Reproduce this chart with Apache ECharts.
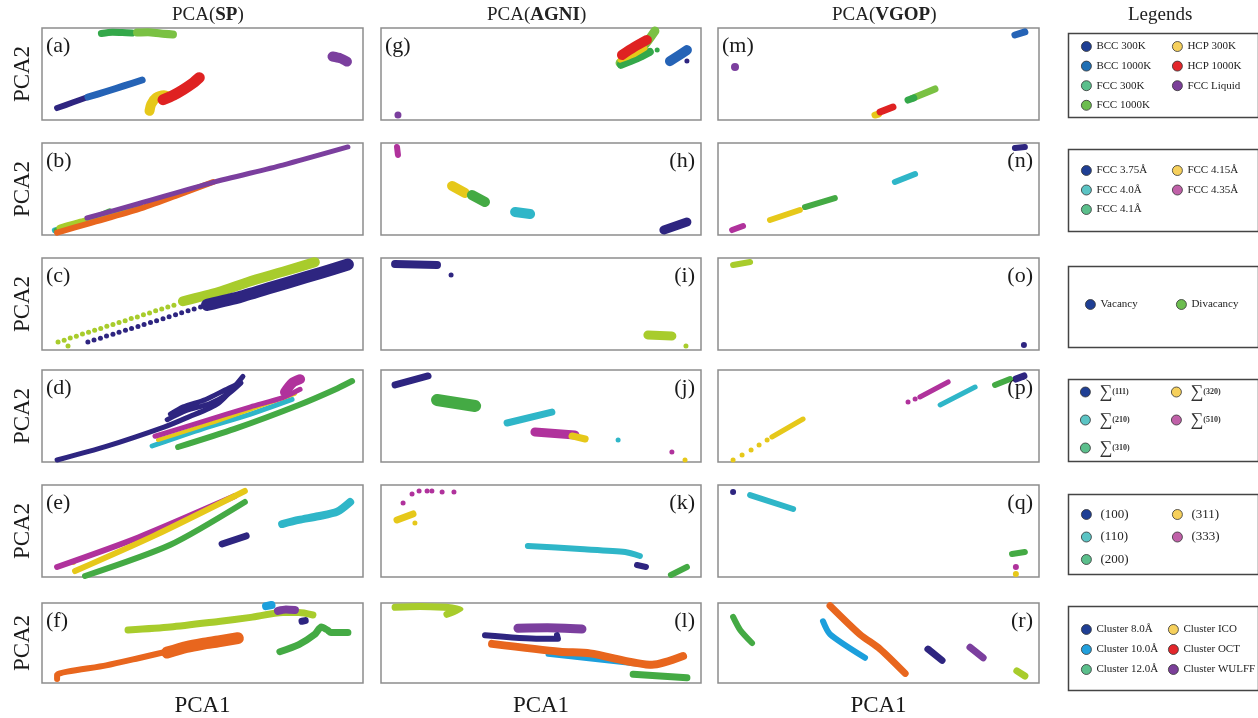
<!DOCTYPE html>
<html>
<head>
<meta charset="utf-8">
<script src="https://cdn.jsdelivr.net/npm/echarts@6/dist/echarts.min.js"></script>
<style>
html,body{margin:0;padding:0;background:#fff}
#chart{width:1258px;height:718px}
</style>
</head>
<body>
<div id="chart"></div>
<script>
// PCA projections, PCA1/PCA2 in normalised units (0–100 per panel)

// (a) SP – phases
const a_bcc300  = [[4.7,13],[9.5,19],[14.3,25]];
const a_bcc1000 = [[14.3,25],[20,31],[25.5,37],[31.2,43.5]];
const a_fcc300  = [[18.5,94],[22,95.5],[25,95],[28,94.5]];
const a_fcc1000 = [[29.6,95],[33,95.5],[37,94],[40.8,93]];
const a_hcp300  = [[33.5,10],[34,17],[35.5,24],[38,27],[39.5,25]];
const a_hcp1000 = [[37.7,22],[41,27],[44,33],[47,40],[49,46]];
const a_liquid  = [[90.5,69],[93,67],[95,63.5]];
// (b) SP – lattice constants
const b_375 = [[4,5],[9,9],[15,14]];
const b_40  = [[4.7,4.5],[12,12],[21,25]];
const b_41  = [[5.6,7.6],[12,14],[20,21],[30.5,32]];
const b_415 = [[4.7,2.5],[15,13],[30,28],[42,43],[53.3,57.6]];
const b_435 = [[14,18.5],[30,34],[53,57],[75,76],[95.3,95.7]];
// (c) SP – vacancies
const c_divDots = [[5,8.7],[6.9,10.6],[8.8,13],[10.7,15],[12.6,17.4],[14.5,19.2],[16.4,21.5],[18.3,23.5],[20.2,25.8],[22.1,27.6],[24,29.9],[25.9,31.9],[27.8,34.2],[29.7,36],[31.6,38.4],[33.5,40.3],[35.4,42.6],[37.3,44.5],[39.2,46.8],[41.1,48.7],[8.1,4.3]];
const c_divBand = [[43.9,53],[55,63],[64.2,74],[75,85],[85,95.5]];
const c_vacDots = [[14.3,8.7],[16.2,10.8],[18.2,12.9],[20.1,15.1],[22.1,17.1],[24,19.2],[26,21.4],[27.9,23.4],[29.9,25.6],[31.8,27.7],[33.8,29.9],[35.7,31.9],[37.7,34.1],[39.6,36.2],[41.6,38.4],[43.5,40.4],[45.5,42.6],[47.4,44.7],[49.4,46.8]];
const c_vacBand = [[51.4,49],[62,58],[77.3,74],[87,84],[95.3,93]];
// (d) SP – grain boundaries
const d_111  = [[4.7,2.2],[20,17],[38,38],[45,48],[55,64],[62.6,93]];
const d_111b = [[39,46],[45,56],[52,63],[58,74],[62,86],[58,80],[51,68],[44,60],[40,52]];
const d_210  = [[34.3,17.4],[50,36],[65,52],[77.9,68]];
const d_310  = [[42.4,16.3],[60,36],[80,62],[92,80],[96.6,88]];
const d_320  = [[36.1,23.9],[55,45],[78.8,74]];
const d_510  = [[35.2,28],[50,44],[65,60],[75,70],[80.4,79]];
const d_510b = [[75.7,76],[78,86],[80.4,90]];
// (e) SP – surfaces
const e_100 = [[56.1,35.9],[63.6,44.6]];
const e_110 = [[74.8,57.6],[80,62],[86,66],[92,71],[96,81.5]];
const e_200 = [[13.4,1.1],[40,35],[63.2,81.5]];
const e_311 = [[10.3,6.5],[35,45],[63.2,93.5]];
const e_311d = [[9.7,16.3]];
const e_333 = [[4.7,10.9],[30,43],[60.1,88]];
// (f) SP – clusters
const f_oct  = [[4.7,5],[4.7,10],[20,22],[30,31],[40.8,41]];
const f_octB = [[39,38],[45,45],[50,49],[55,52],[61,56]];
const f_ico  = [[26.8,66.3],[40,70],[55,77],[65,82],[75.1,88],[80,88],[84.4,85]];
const f_12   = [[74.1,39.1],[80,48],[85,60.9],[87,70],[89,66],[90,63],[95.3,63]];
const f_10   = [[69.8,96],[71.5,97.5]];
const f_wulff= [[73.5,90.2],[76,92],[78.8,91.3]];
const f_8    = [[81,77.2],[82,78]];

// (g) AGNI – phases
const g_fcc1000 = [[74.7,62],[78,70],[82,80],[85.6,96.7]];
const g_fcc300  = [[75,60],[80,67],[84,74]];
const g_fcc300d = [[86.3,76]];
const g_hcp300  = [[74.7,65],[78.5,70],[82.5,78]];
const g_hcp1000 = [[75.3,70.7],[79,79],[83.1,87]];
const g_bcc1000 = [[90.3,64],[93,70],[95.6,76]];
const g_bcc300  = [[95.6,64],[90.3,62]];
const g_liquid  = [[5.3,5.4]];
// (h) AGNI – lattice constants
const h_435 = [[5,95.7],[5.3,87]];
const h_415 = [[22.2,53.3],[26.2,45.7]];
const h_41  = [[28.4,43.5],[32.5,35.9]];
const h_40  = [[41.9,25],[46.6,22.8]];
const h_375 = [[88.4,5.4],[95.6,14.1]];
// (i) AGNI – vacancies
const i_vac  = [[4.4,93.5],[17.5,92.4]];
const i_vacD = [[21.9,81.5]];
const i_div  = [[83.4,16.3],[90.9,15.2]];
const i_divD = [[95.3,4.3]];
// (j) AGNI – grain boundaries
const j_111 = [[4.4,83.7],[14.7,93.5]];
const j_310 = [[17.5,67.4],[29.4,60.9]];
const j_210 = [[39.4,42.4],[53.4,54.3]];
const j_210d = [[74.1,23.9]];
const j_510 = [[48.1,32.6],[60.6,29.3]];
const j_510d = [[90.9,10.9]];
const j_320 = [[59.7,28.3],[63.8,25]];
const j_320d = [[95,2.2]];
// (k) AGNI – surfaces
const k_333 = [[6.9,80.4],[9.7,90.2],[11.9,93.5],[14.4,93.5],[15.9,93.5],[19.1,92.4],[22.8,92.4]];
const k_311 = [[5,62],[10,68.5]];
const k_311d = [[10.6,58.7]];
const k_110 = [[45.9,33.7],[62.2,30.4],[76.3,27.2],[80.9,22.8]];
const k_100 = [[80,13],[82.8,10.9]];
const k_200 = [[90.6,2.2],[95.6,10.9]];
// (l) AGNI – clusters
const l_ico  = [[4.4,94.6],[12.2,95.7],[24.7,92.4],[20.6,85.9]];
const l_wulff= [[42.8,68.5],[52,69],[62.8,67.4]];
const l_8    = [[32.5,59.8],[49.7,55.4],[55.3,55.4],[55,59.8]];
const l_oct  = [[34.7,48.9],[55.9,39.1],[65.3,37],[84.7,22.8],[94.4,33.7]];
const l_10   = [[52.2,35.9],[84.1,21.7]];
const l_12   = [[78.8,10.9],[95.6,6.5]];

// (m) VGOP – phases
const m_bcc1000 = [[92.5,92.4],[95.6,95.7]];
const m_liquid  = [[5.3,57.6]];
const m_fcc1000 = [[60.5,23.5],[67.6,33.7]];
const m_fcc300  = [[59.2,21.7],[61,24]];
const m_hcp1000 = [[50.5,8.7],[54.5,14.1]];
const m_hcp300  = [[48.9,5.4],[50,6.5]];
// (n) VGOP – lattice constants
const n_375 = [[92.5,94.6],[95.6,95.7]];
const n_40  = [[55.1,57.6],[61.4,66.3]];
const n_41  = [[27.1,30.4],[36.4,40.2]];
const n_415 = [[16.2,16.3],[25.5,27.2]];
const n_435 = [[4.4,5.4],[7.8,9.8]];
// (o) VGOP – vacancies
const o_div = [[4.7,92.4],[10,95.7]];
const o_vac = [[95.3,5.4]];
// (p) VGOP – grain boundaries
const p_111 = [[92.8,90.2],[95.3,93.5]];
const p_310 = [[86.3,83.7],[91,90.2]];
const p_210 = [[69.2,62],[80.1,81.5]];
const p_510 = [[62.9,70.7],[71.7,87]];
const p_510d = [[59.2,65.2],[61.4,68.5]];
const p_320 = [[16.8,27.2],[26.5,46.7]];
const p_320d = [[4.7,2.2],[7.5,7.6],[10.3,13],[12.8,18.5],[15.3,23.9]];
// (q) VGOP – surfaces
const q_100 = [[4.7,92.4]];
const q_110 = [[10,89.1],[23.4,73.9]];
const q_200 = [[91.6,25],[95.6,27.2]];
const q_333 = [[92.8,10.9]];
const q_311 = [[92.8,3.3]];
// (r) VGOP – clusters
const r_12   = [[4.7,82.6],[6.9,66.3],[10.6,50]];
const r_10   = [[32.7,77.2],[34.9,60.9],[45.8,31.5]];
const r_oct  = [[34.9,96.7],[44.2,60.9],[50.5,42.4],[58.3,12]];
const r_8    = [[65.4,42.4],[69.8,28.3]];
const r_wulff= [[78.5,44.6],[82.6,31.5]];
const r_ico  = [[93.1,15.2],[95.6,8.7]];

// ---------------------------------------------------------------
const COL = {
  navy:'#2e2580', blue:'#2563b6', dgreen:'#34a84a', lgreen:'#7ac143',
  purple:'#7b3f9e', yellow:'#e6c81a', red:'#df2222', orange:'#e8661e',
  lime:'#a8cc2c', teal:'#2fb6c8', sky:'#1c9fdc', magenta:'#b0329c', green:'#44aa44'
};
const SERIF = "'Liberation Serif','DejaVu Serif',serif";

// [legend name, colour, data, kind ('l' streak / 's' dots), width or size]
const PANELS = [
  // column SP
  [['FCC 300K',COL.dgreen,a_fcc300,'l',7],['FCC 1000K',COL.lgreen,a_fcc1000,'l',8],['FCC Liquid',COL.purple,a_liquid,'l',10],
   ['BCC 300K',COL.navy,a_bcc300,'l',6],['BCC 1000K',COL.blue,a_bcc1000,'l',7],['HCP 300K',COL.yellow,a_hcp300,'l',10],['HCP 1000K',COL.red,a_hcp1000,'l',11]],
  [['FCC 3.75Å',COL.teal,b_375,'l',6],['FCC 4.0Å',COL.green,b_40,'l',7],['FCC 4.1Å',COL.lime,b_41,'l',7],['FCC 4.15Å',COL.orange,b_415,'l',6],['FCC 4.35Å',COL.purple,b_435,'l',5]],
  [['Divacancy',COL.lime,c_divDots,'s',5],['Divacancy',COL.lime,c_divBand,'l',10],['Vacancy',COL.navy,c_vacDots,'s',5],['Vacancy',COL.navy,c_vacBand,'l',12]],
  [['∑(111)',COL.navy,d_111,'l',5],['∑(111)',COL.navy,d_111b,'l',5],['∑(310)',COL.green,d_310,'l',6],['∑(210)',COL.teal,d_210,'l',5],
   ['∑(320)',COL.yellow,d_320,'l',4],['∑(510)',COL.magenta,d_510,'l',5],['∑(510)',COL.magenta,d_510b,'l',10]],
  [['(333)',COL.magenta,e_333,'l',6],['(311)',COL.yellow,e_311,'l',6],['(311)',COL.yellow,e_311d,'s',6],['(200)',COL.green,e_200,'l',6],
   ['(100)',COL.navy,e_100,'l',7],['(110)',COL.teal,e_110,'l',8]],
  [['Cluster OCT',COL.orange,f_oct,'l',6],['Cluster OCT',COL.orange,f_octB,'l',12],['Cluster ICO',COL.lime,f_ico,'l',7],['Cluster 12.0Å',COL.green,f_12,'l',7],
   ['Cluster 10.0Å',COL.sky,f_10,'l',8],['Cluster WULFF',COL.purple,f_wulff,'l',8],['Cluster 8.0Å',COL.navy,f_8,'l',7]],
  // column AGNI
  [['FCC 1000K',COL.lgreen,g_fcc1000,'l',9],['FCC 300K',COL.dgreen,g_fcc300,'l',8],['FCC 300K',COL.dgreen,g_fcc300d,'s',5],['HCP 300K',COL.yellow,g_hcp300,'l',5],
   ['HCP 1000K',COL.red,g_hcp1000,'l',10],['BCC 300K',COL.navy,g_bcc300,'s',5],['BCC 1000K',COL.blue,g_bcc1000,'l',10],['FCC Liquid',COL.purple,g_liquid,'s',7]],
  [['FCC 4.35Å',COL.magenta,h_435,'l',6],['FCC 4.15Å',COL.yellow,h_415,'l',10],['FCC 4.1Å',COL.green,h_41,'l',10],['FCC 4.0Å',COL.teal,h_40,'l',10],['FCC 3.75Å',COL.navy,h_375,'l',9]],
  [['Vacancy',COL.navy,i_vac,'l',8],['Vacancy',COL.navy,i_vacD,'s',5],['Divacancy',COL.lime,i_div,'l',9],['Divacancy',COL.lime,i_divD,'s',5]],
  [['∑(111)',COL.navy,j_111,'l',7],['∑(310)',COL.green,j_310,'l',12],['∑(210)',COL.teal,j_210,'l',7],['∑(210)',COL.teal,j_210d,'s',5],
   ['∑(510)',COL.magenta,j_510,'l',9],['∑(510)',COL.magenta,j_510d,'s',5],['∑(320)',COL.yellow,j_320,'l',7],['∑(320)',COL.yellow,j_320d,'s',5]],
  [['(333)',COL.magenta,k_333,'s',5],['(311)',COL.yellow,k_311,'l',7],['(311)',COL.yellow,k_311d,'s',5],['(110)',COL.teal,k_110,'l',6],
   ['(100)',COL.navy,k_100,'l',6],['(200)',COL.green,k_200,'l',6]],
  [['Cluster ICO',COL.lime,l_ico,'l',7],['Cluster WULFF',COL.purple,l_wulff,'l',9],['Cluster 8.0Å',COL.navy,l_8,'l',6],['Cluster 10.0Å',COL.sky,l_10,'l',5],
   ['Cluster OCT',COL.orange,l_oct,'l',8],['Cluster 12.0Å',COL.green,l_12,'l',7]],
  // column VGOP
  [['BCC 1000K',COL.blue,m_bcc1000,'l',7],['FCC Liquid',COL.purple,m_liquid,'s',8],['FCC 1000K',COL.lgreen,m_fcc1000,'l',7],['FCC 300K',COL.dgreen,m_fcc300,'l',7],
   ['HCP 300K',COL.yellow,m_hcp300,'l',7],['HCP 1000K',COL.red,m_hcp1000,'l',7]],
  [['FCC 3.75Å',COL.navy,n_375,'l',6],['FCC 4.0Å',COL.teal,n_40,'l',6],['FCC 4.1Å',COL.green,n_41,'l',6],['FCC 4.15Å',COL.yellow,n_415,'l',6],['FCC 4.35Å',COL.magenta,n_435,'l',6]],
  [['Divacancy',COL.lime,o_div,'l',6],['Vacancy',COL.navy,o_vac,'s',6]],
  [['∑(111)',COL.navy,p_111,'l',7],['∑(310)',COL.green,p_310,'l',6],['∑(210)',COL.teal,p_210,'l',5],['∑(510)',COL.magenta,p_510,'l',5],
   ['∑(510)',COL.magenta,p_510d,'s',5],['∑(320)',COL.yellow,p_320,'l',5],['∑(320)',COL.yellow,p_320d,'s',5]],
  [['(100)',COL.navy,q_100,'s',6],['(110)',COL.teal,q_110,'l',6],['(200)',COL.green,q_200,'l',6],['(333)',COL.magenta,q_333,'s',6],['(311)',COL.yellow,q_311,'s',6]],
  [['Cluster 12.0Å',COL.green,r_12,'l',6],['Cluster 10.0Å',COL.sky,r_10,'l',6],['Cluster OCT',COL.orange,r_oct,'l',7],['Cluster 8.0Å',COL.navy,r_8,'l',7],
   ['Cluster WULFF',COL.purple,r_wulff,'l',7],['Cluster ICO',COL.lime,r_ico,'l',7]]
];

const COLUMNS = [{left:42,width:321,head:'SP',hx:172},{left:381,width:320,head:'AGNI',hx:487},{left:718,width:321,head:'VGOP',hx:832}];
const ROW_TOPS = [28,143,258,370,485,603];
const PANEL_H = 92;
const LETTERS = 'abcdefghijklmnopqr';

const grids=[], xAxes=[], yAxes=[], series=[], titles=[];
const axisBase = {type:'value',min:0,max:100,axisLine:{show:false},axisTick:{show:false},axisLabel:{show:false},splitLine:{show:false},
  nameLocation:'middle',nameTextStyle:{fontFamily:SERIF,fontSize:23,color:'#1a1a1a'}};

COLUMNS.forEach((col,c)=>{
  titles.push({left:col.hx,top:6,padding:0,text:'{n|PCA(}{b|'+col.head+'}{n|)}',
    textStyle:{fontWeight:'normal',rich:{n:{fontFamily:SERIF,fontSize:19,fontWeight:'normal',color:'#222'},b:{fontFamily:SERIF,fontSize:19,fontWeight:'bold',color:'#222'}}}});
  ROW_TOPS.forEach((top,r)=>{
    const idx=c*6+r;
    grids.push({left:col.left,top:top,width:col.width,height:PANEL_H,show:true,borderColor:'#8d8d8d',borderWidth:1.5,backgroundColor:'#fff'});
    xAxes.push(Object.assign({},axisBase,{gridIndex:idx,name:r===5?'PCA1':'',nameGap:11}));
    yAxes.push(Object.assign({},axisBase,{gridIndex:idx,name:c===0?'PCA2':'',nameGap:8}));
    const letter='('+LETTERS[idx]+')';
    const leftSide = c===0 || r===0;
    const t={top:top+7,padding:0,text:letter,textStyle:{fontFamily:SERIF,fontSize:22,fontWeight:'normal',color:'#1a1a1a'}};
    if(leftSide) t.left=col.left+4; else t.right=1258-(col.left+col.width)+6;
    titles.push(t);
    PANELS[idx].forEach(([name,color,data,kind,w])=>{
      if(kind==='l'){
        series.push({type:'line',name,xAxisIndex:idx,yAxisIndex:idx,data,symbol:'none',smooth:0.25,
          lineStyle:{color,width:w,cap:'round',join:'round'},itemStyle:{color},silent:true});
      } else {
        series.push({type:'scatter',name,xAxisIndex:idx,yAxisIndex:idx,data,symbolSize:w,itemStyle:{color,opacity:1},silent:true});
      }
    });
  });
});
titles.push({left:1128,top:6,padding:0,text:'Legends',textStyle:{fontFamily:SERIF,fontSize:19,fontWeight:'normal',color:'#222'}});

// legend boxes (right column)
const LEG = {navy:'#1f3f94',blue:'#1f6fb4',teal:'#5bbf8c',green:'#6cbd4f',yellow:'#f6d05c',red:'#e3262b',purple:'#7b3f99',cyan:'#5bc4c4',pink:'#c060a8',sky:'#22a0dc'};
const BOXES = [[31,84],[147,82],[264,81],[377,82],[492,80],[604,84]];
function legItems(list){return list.map(([n,c])=>({name:n,itemStyle:{color:c,borderColor:'#333',borderWidth:0.8}}));}
const legText = {fontFamily:SERIF,fontSize:11,color:'#222'};
function leg(left,top,gap,items,extra){
  return Object.assign({orient:'vertical',left,top,itemWidth:10,itemHeight:10,itemGap:gap,icon:'circle',selectedMode:false,padding:0,
    textStyle:legText,data:legItems(items)},extra||{});
}
const sigma = {formatter:n=>'{s|∑}{n|'+n.slice(1)+'}',
  textStyle:{padding:[0,0,0,4],rich:{s:{fontFamily:SERIF,fontSize:18,lineHeight:18,color:'#333'},n:{fontFamily:SERIF,fontSize:8,fontWeight:'bold',color:'#333'}}}};
const paren = {textStyle:{fontFamily:SERIF,fontSize:13,color:'#222',padding:[0,0,0,4]}};
const legends = [
  leg(1081,41,8.6,[['BCC 300K',LEG.navy],['BCC 1000K',LEG.blue],['FCC 300K',LEG.teal],['FCC 1000K',LEG.green]]),
  leg(1172,41,8.6,[['HCP 300K',LEG.yellow],['HCP 1000K',LEG.red],['FCC Liquid',LEG.purple]]),
  leg(1081,165,8.5,[['FCC 3.75Å',LEG.navy],['FCC 4.0Å',LEG.cyan],['FCC 4.1Å',LEG.teal]]),
  leg(1172,165,8.5,[['FCC 4.15Å',LEG.yellow],['FCC 4.35Å',LEG.pink]]),
  leg(1085,299,0,[['Vacancy',LEG.navy]]),
  leg(1176,299,0,[['Divacancy',LEG.green]]),
  leg(1080,383,10,[['∑(111)',LEG.navy],['∑(210)',LEG.cyan],['∑(310)',LEG.teal]],sigma),
  leg(1171,383,10,[['∑(320)',LEG.yellow],['∑(510)',LEG.pink]],sigma),
  leg(1081,508,9.5,[['(100)',LEG.navy],['(110)',LEG.cyan],['(200)',LEG.teal]],paren),
  leg(1172,508,9.5,[['(311)',LEG.yellow],['(333)',LEG.pink]],paren),
  leg(1081,624,9,[['Cluster 8.0Å',LEG.navy],['Cluster 10.0Å',LEG.sky],['Cluster 12.0Å',LEG.teal]]),
  leg(1168,624,9,[['Cluster ICO',LEG.yellow],['Cluster OCT',LEG.red],['Cluster WULFF',LEG.purple]])
];

const chart = echarts.init(document.getElementById('chart'),null,{renderer:'canvas'});
chart.setOption({
  animation:false,
  backgroundColor:'#fff',
  textStyle:{fontFamily:SERIF},
  title:titles,
  grid:grids, xAxis:xAxes, yAxis:yAxes,
  legend:legends,
  graphic:BOXES.map(([y,h])=>({type:'rect',left:1066,top:y,shape:{width:190,height:h},style:{fill:'none',stroke:'#444',lineWidth:1.5},silent:true})),
  series
});
</script>
</body>
</html>
